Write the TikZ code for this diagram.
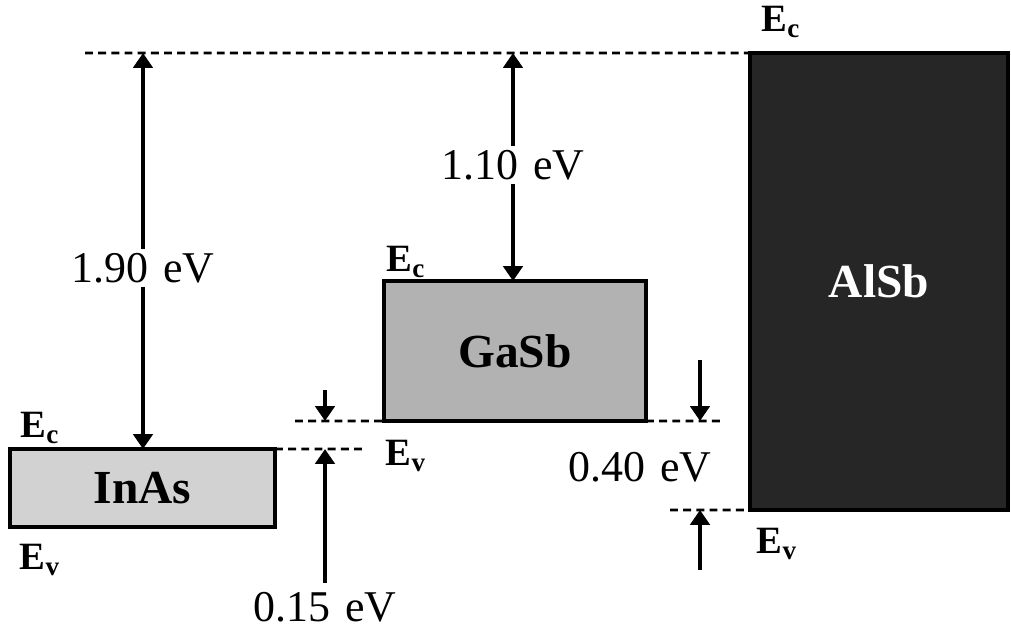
\documentclass[tikz,border=0pt]{standalone}
\usepackage{fontspec}
\setmainfont{Liberation Serif}
\usetikzlibrary{arrows.meta,positioning}

\begin{document}
\begin{tikzpicture}[x=0.02cm, y=-0.02cm,
    band/.style={rectangle, draw, line width=2.6pt, inner sep=0pt, outer sep=0pt, font=\fontsize{27}{29}\selectfont\bfseries},
    level/.style={line width=1.6pt, dash pattern=on 4.5pt off 3pt},
    arrow/.style={-{Triangle[length=8.5pt, width=11pt]}, line width=2.2pt},
    elabel/.style={font=\fontsize{22}{24}\selectfont\bfseries, inner sep=0pt},
    gap/.style={font=\fontsize{25}{27}\selectfont, inner sep=2pt}
]
\useasboundingbox (0,0) rectangle (1011,633);

% bands
\node[band, fill=gray!35, minimum width=5.3cm, minimum height=1.56cm] (inas) at (142.5,488) {InAs};
\node[band, fill=gray!60, minimum width=5.24cm, minimum height=2.8cm] (gasb) at (515,351) {GaSb};
\node[band, fill=black!85, text=white, minimum width=5.16cm, minimum height=9.14cm] (alsb) at (879,281.5) {AlSb};

% band edge labels
\node[elabel] (inasc) at (40,428) {E\textsubscript{c}};
\node[elabel] (inasv) at (40,560) {E\textsubscript{v}};
\node[elabel] (gasbc) at (406,262) {E\textsubscript{c}};
\node[elabel] (gasbv) at (406,456) {E\textsubscript{v}};
\node[elabel] (alsbc) at (781,22) {E\textsubscript{c}};
\node[elabel] (alsbv) at (777,544) {E\textsubscript{v}};

% reference levels
\coordinate (topl) at (85,53);
\coordinate (gvl) at (295,421);
\coordinate (gvr) at (720,421);
\coordinate (icr) at (365,449);
\coordinate (avl) at (670,510);
\draw[level] (topl) -- (alsb.north west);
\draw[level] (gvl) -- (gasb.south west);
\draw[level] (gasb.south east) -- (gvr);
\draw[level] (inas.north east) -- (icr);
\draw[level] (avl) -- (alsb.south west);

% offsets
\node[gap] (l190) at (143,268) {1.90\,\,eV};
\node[gap] (l110) at (513,165) {1.10\,\,eV};
\node[gap] (l015) at (325,607) {0.15\,\,eV};
\node[gap] (l040) at (640,467) {0.40\,\,eV};

\draw[arrow] (l190.north) -- (l190 |- topl);
\draw[arrow] (l190.south) -- (l190 |- inas.north);
\draw[arrow] (l110.north) -- (l110 |- topl);
\draw[arrow] (l110.south) -- (l110 |- gasb.north);

\coordinate (p1) at (325,390);
\coordinate (p2) at (325,583);
\coordinate (q1) at (700,360);
\coordinate (q2) at (700,570);
\draw[arrow] (p1) -- (p1 |- gasb.south);
\draw[arrow] (p2) -- (p2 |- inas.north);
\draw[arrow] (q1) -- (q1 |- gasb.south);
\draw[arrow] (q2) -- (q2 |- alsb.south);
\end{tikzpicture}
\end{document}
